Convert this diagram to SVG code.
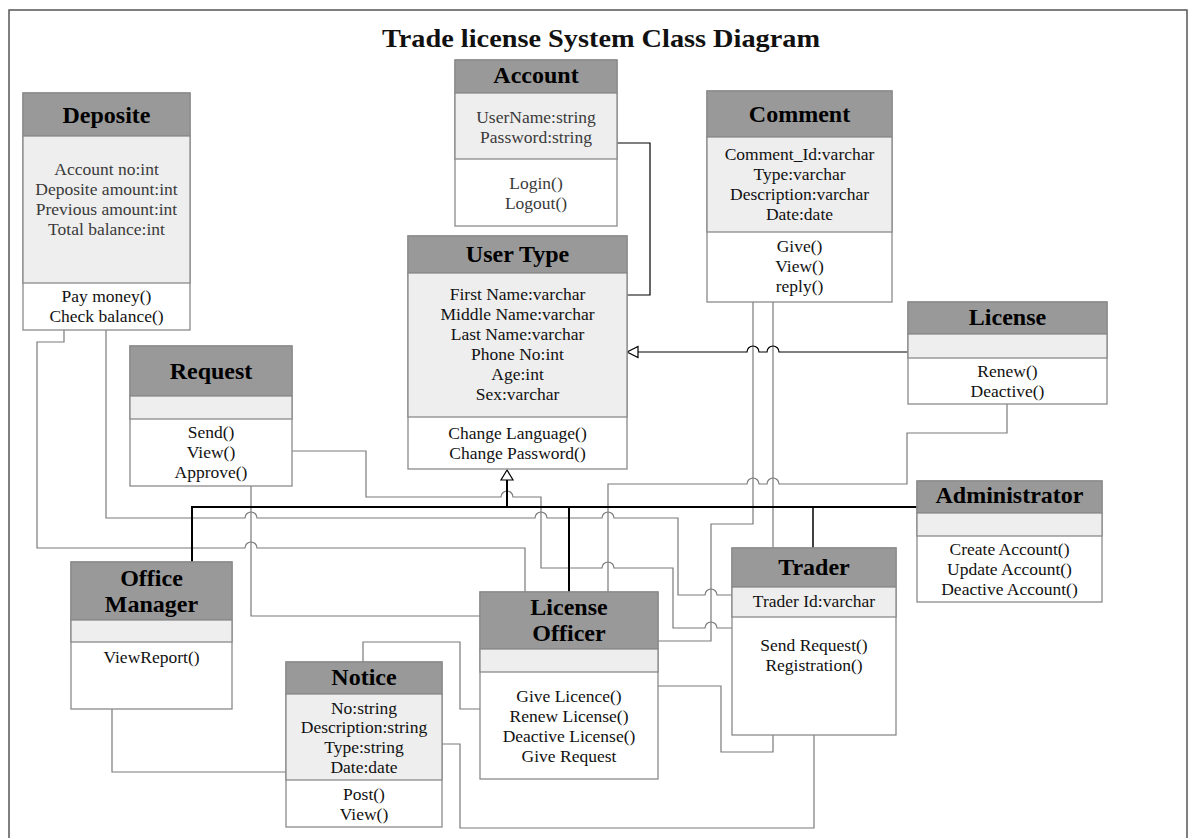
<svg xmlns="http://www.w3.org/2000/svg" width="1188" height="838" viewBox="0 0 1188 838">
<style>
text{font-family:"Liberation Serif","Times New Roman",serif;text-anchor:middle;fill:#111}
.h{font-size:24px;font-weight:bold;fill:#000}
.a{font-size:17.5px}
.g{fill:#3a3a3a}
.hd{fill:#999;stroke:#8a8a8a;stroke-width:1.3}
.at{fill:#eee;stroke:#8a8a8a;stroke-width:1.3}
.bd{fill:#fff;stroke:#8a8a8a;stroke-width:1.3}
.c{fill:none;stroke:#7a7a7a;stroke-width:1.2}
.k{fill:none;stroke:#000;stroke-width:1.2}
.kb{fill:none;stroke:#000;stroke-width:2}
.tri{fill:#fff;stroke:#000;stroke-width:1.2}
</style>
<rect x="9" y="10" width="1178" height="850" fill="#fff" stroke="#555" stroke-width="1.5"/>
<text x="601" y="47" style="font-size:25px;font-weight:bold" fill="#000" textLength="438" lengthAdjust="spacingAndGlyphs">Trade license System Class Diagram</text>

<g id="connectors">
<path class="c" d="M64,330 V342 H37 V548 H245 a6 6 0 0 1 12 0 H525 V592"/>
<path class="c" d="M106,330 V518 H245 a6 6 0 0 1 12 0 H535 a6 6 0 0 1 12 0 H602 a6 6 0 0 1 12 0 H678 V595 H705 a6 6 0 0 1 12 0 H732"/>
<path class="c" d="M292,451 H366 V497 H501 a6 6 0 0 1 12 0 H541 V568 H602 a6 6 0 0 1 12 0 H673 V628 H705 a6 6 0 0 1 12 0 H732"/>
<path class="c" d="M251,486 V616 H480"/>
<path class="c" d="M363,662 V642 H460 V709 H480"/>
<path class="c" d="M442,744 H460 V828 H814 V735"/>
<path class="c" d="M658,686 H721 V752 H773 V735"/>
<path class="c" d="M658,641 H711 V524 H753 V302"/>
<path class="c" d="M773,302 V548"/>
<path class="c" d="M608,592 V484 H747 a6 6 0 0 1 12 0 H767 a6 6 0 0 1 12 0 H907 V433 H1007 V404"/>
<path class="c" d="M112,709 V772 H286"/>
<path class="k" d="M638,352 H747 a6 6 0 0 1 12 0 H767 a6 6 0 0 1 12 0 H908"/>
<polygon class="tri" points="627,352 638,346.5 638,357.5"/>
<path class="k" d="M617,143 H650 V295 H627"/>
<path class="kb" d="M192,562 V507 H917"/>
<path class="kb" d="M507,507 V480"/>
<polygon class="tri" points="507,470 501,480 513,480"/>
<path class="kb" d="M569,507 V592"/>
<path class="k" d="M813,507 V548" style="stroke-width:1.5"/>
</g>

<g id="deposite">
<rect class="bd" x="23" y="93" width="167" height="237"/>
<rect class="hd" x="23" y="93" width="167" height="43"/>
<rect class="at" x="23" y="136" width="167" height="147"/>
<text class="h" x="106.5" y="123">Deposite</text>
<text class="a g" x="106.5" y="175">Account no:int</text>
<text class="a g" x="106.5" y="195">Deposite amount:int</text>
<text class="a g" x="106.5" y="215">Previous amount:int</text>
<text class="a g" x="106.5" y="235">Total balance:int</text>
<text class="a" x="106.5" y="302">Pay money()</text>
<text class="a" x="106.5" y="322">Check balance()</text>
</g>

<g id="account">
<rect class="bd" x="455" y="60" width="162" height="166"/>
<rect class="hd" x="455" y="60" width="162" height="33"/>
<rect class="at" x="455" y="93" width="162" height="66"/>
<text class="h" x="536" y="83">Account</text>
<text class="a g" x="536" y="123">UserName:string</text>
<text class="a g" x="536" y="143">Password:string</text>
<text class="a g" x="536" y="189">Login()</text>
<text class="a g" x="536" y="209">Logout()</text>
</g>

<g id="usertype">
<rect class="bd" x="408" y="236" width="219" height="233"/>
<rect class="hd" x="408" y="236" width="219" height="37"/>
<rect class="at" x="408" y="273" width="219" height="144"/>
<text class="h" x="517.5" y="262">User Type</text>
<text class="a" x="517.5" y="300">First Name:varchar</text>
<text class="a" x="517.5" y="320">Middle Name:varchar</text>
<text class="a" x="517.5" y="340">Last Name:varchar</text>
<text class="a" x="517.5" y="360">Phone No:int</text>
<text class="a" x="517.5" y="380">Age:int</text>
<text class="a" x="517.5" y="400">Sex:varchar</text>
<text class="a" x="517.5" y="439">Change Language()</text>
<text class="a" x="517.5" y="459">Change Password()</text>
</g>

<g id="comment">
<rect class="bd" x="707" y="91" width="185" height="211"/>
<rect class="hd" x="707" y="91" width="185" height="46"/>
<rect class="at" x="707" y="137" width="185" height="95"/>
<text class="h" x="799.5" y="122">Comment</text>
<text class="a" x="799.5" y="160">Comment_Id:varchar</text>
<text class="a" x="799.5" y="180">Type:varchar</text>
<text class="a" x="799.5" y="200">Description:varchar</text>
<text class="a" x="799.5" y="220">Date:date</text>
<text class="a" x="799.5" y="252">Give()</text>
<text class="a" x="799.5" y="272">View()</text>
<text class="a" x="799.5" y="292">reply()</text>
</g>

<g id="license">
<rect class="bd" x="908" y="302" width="199" height="102"/>
<rect class="hd" x="908" y="302" width="199" height="32"/>
<rect class="at" x="908" y="334" width="199" height="24"/>
<text class="h" x="1007.5" y="325">License</text>
<text class="a" x="1007.5" y="377">Renew()</text>
<text class="a" x="1007.5" y="397">Deactive()</text>
</g>

<g id="request">
<rect class="bd" x="130" y="346" width="162" height="140"/>
<rect class="hd" x="130" y="346" width="162" height="50"/>
<rect class="at" x="130" y="396" width="162" height="23"/>
<text class="h" x="211" y="379">Request</text>
<text class="a" x="211" y="438">Send()</text>
<text class="a" x="211" y="458">View()</text>
<text class="a" x="211" y="478">Approve()</text>
</g>

<g id="administrator">
<rect class="bd" x="917" y="481" width="185" height="121"/>
<rect class="hd" x="917" y="481" width="185" height="32"/>
<rect class="at" x="917" y="513" width="185" height="23"/>
<text class="h" x="1009.5" y="503">Administrator</text>
<text class="a" x="1009.5" y="555">Create Account()</text>
<text class="a" x="1009.5" y="575">Update Account()</text>
<text class="a" x="1009.5" y="595">Deactive Account()</text>
</g>

<g id="trader">
<rect class="bd" x="732" y="548" width="164" height="187"/>
<rect class="hd" x="732" y="548" width="164" height="39"/>
<rect class="at" x="732" y="587" width="164" height="30"/>
<text class="h" x="814" y="575">Trader</text>
<text class="a" x="814" y="607">Trader Id:varchar</text>
<text class="a" x="814" y="651">Send Request()</text>
<text class="a" x="814" y="671">Registration()</text>
</g>

<g id="officemanager">
<rect class="bd" x="71" y="562" width="161" height="147"/>
<rect class="hd" x="71" y="562" width="161" height="58"/>
<rect class="at" x="71" y="620" width="161" height="22"/>
<text class="h" x="151.5" y="586">Office</text>
<text class="h" x="151.5" y="612">Manager</text>
<text class="a" x="151.5" y="663">ViewReport()</text>
</g>

<g id="notice">
<rect class="bd" x="286" y="662" width="156" height="165"/>
<rect class="hd" x="286" y="662" width="156" height="32"/>
<rect class="at" x="286" y="694" width="156" height="86"/>
<text class="h" x="364" y="685">Notice</text>
<text class="a" x="364" y="714">No:string</text>
<text class="a" x="364" y="733">Description:string</text>
<text class="a" x="364" y="753">Type:string</text>
<text class="a" x="364" y="773">Date:date</text>
<text class="a" x="364" y="800">Post()</text>
<text class="a" x="364" y="820">View()</text>
</g>

<g id="licenseofficer">
<rect class="bd" x="480" y="592" width="178" height="187"/>
<rect class="hd" x="480" y="592" width="178" height="57"/>
<rect class="at" x="480" y="649" width="178" height="23"/>
<text class="h" x="569" y="615">License</text>
<text class="h" x="569" y="641">Officer</text>
<text class="a" x="569" y="702">Give Licence()</text>
<text class="a" x="569" y="722">Renew License()</text>
<text class="a" x="569" y="742">Deactive License()</text>
<text class="a" x="569" y="762">Give Request</text>
</g>
</svg>
